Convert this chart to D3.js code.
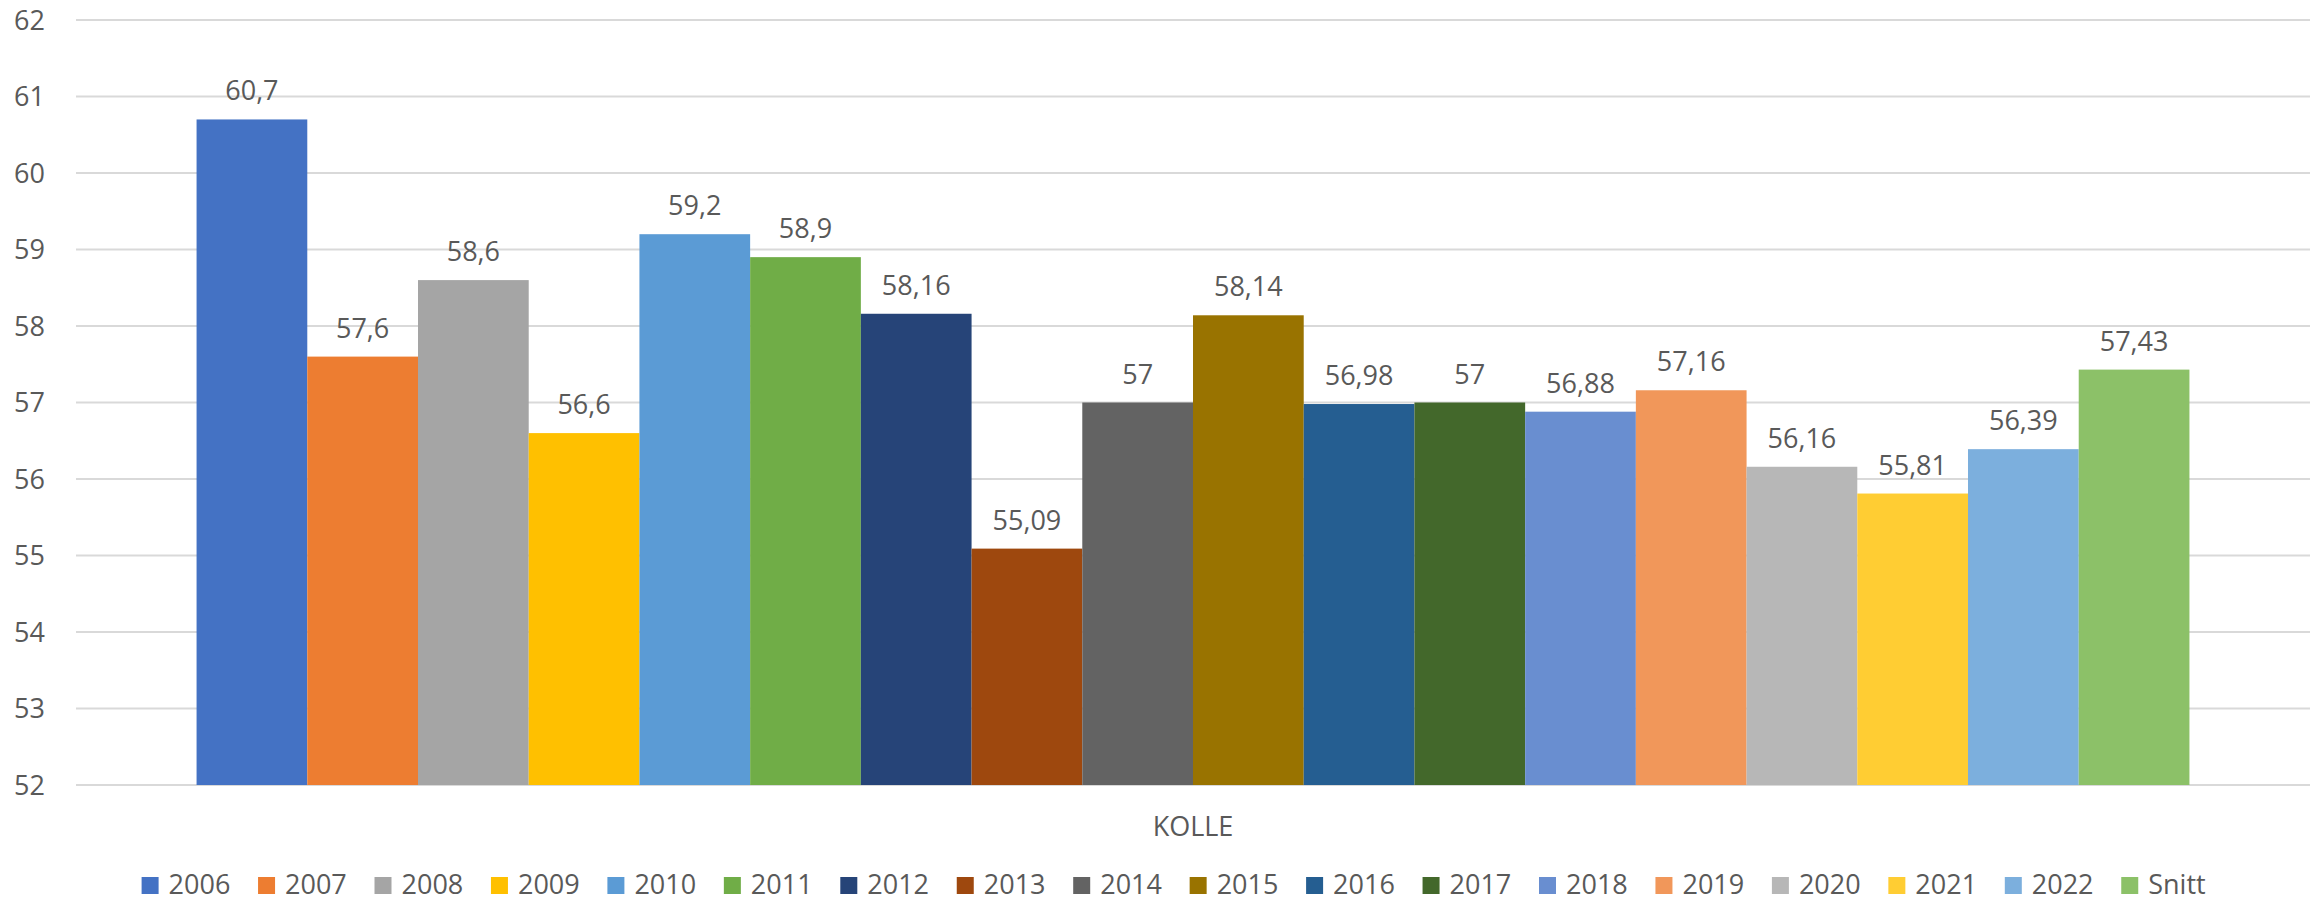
<!DOCTYPE html>
<html>
<head>
<meta charset="utf-8">
<script src="https://cdn.jsdelivr.net/npm/d3@7"></script>
<style>
  html, body { margin: 0; padding: 0; background: #fff; }
  svg { display: block; }
  text { font-family: "Open Sans", sans-serif; fill: #595959; }
</style>
</head>
<body>
<svg id="chart" width="2323" height="902"></svg>
<script>
const category = ["KOLLE"];
const seriesNames = ["2006","2007","2008","2009","2010","2011","2012","2013","2014","2015","2016","2017","2018","2019","2020","2021","2022","Snitt"];
const seriesValues = [60.7, 57.6, 58.6, 56.6, 59.2, 58.9, 58.16, 55.09, 57, 58.14, 56.98, 57, 56.88, 57.16, 56.16, 55.81, 56.39, 57.43];
const seriesColors = ["#4472C4","#ED7D31","#A5A5A5","#FFC000","#5B9BD5","#70AD47","#264478","#9E480E","#636363","#997300","#255E91","#43682B","#698ED0","#F1975A","#B7B7B7","#FFCD33","#7CAFDD","#8CC168"];
const yTicks = [52, 53, 54, 55, 56, 57, 58, 59, 60, 61, 62];

(function () {
const svg = d3.select("#chart");
const pLeft = 76, pRight = 2310, pTop = 20, pBottom = 785;

const y = d3.scaleLinear().domain([52, 62]).range([pBottom, pTop]);
const x0 = d3.scaleBand().domain(category).range([pLeft, pRight]).paddingInner(0).paddingOuter(0.0605);
const x1 = d3.scaleBand().domain(seriesNames).range([0, x0.bandwidth()]).padding(0);

// gridlines
svg.append("g").selectAll("line").data(yTicks).join("line")
  .attr("x1", pLeft).attr("x2", pRight)
  .attr("y1", d => y(d)).attr("y2", d => y(d))
  .attr("stroke", "#D9D9D9").attr("stroke-width", 2);

// y labels
svg.append("g").selectAll("text").data(yTicks).join("text")
  .attr("x", 45).attr("y", d => y(d)).attr("dy", "0.36em")
  .attr("text-anchor", "end").attr("font-size", 27)
  .text(d => d);

const fmt = v => String(v).replace(".", ",");

const g = svg.append("g").attr("transform", `translate(${x0("KOLLE")},0)`);
g.selectAll("rect").data(seriesValues).join("rect")
  .attr("x", (d, i) => x1(seriesNames[i]))
  .attr("width", x1.bandwidth())
  .attr("y", d => y(d))
  .attr("height", d => y(52) - y(d))
  .attr("fill", (d, i) => seriesColors[i]);

g.selectAll("text.lbl").data(seriesValues).join("text")
  .attr("class", "lbl")
  .attr("x", (d, i) => x1(seriesNames[i]) + x1.bandwidth() / 2)
  .attr("y", d => y(d) - 19)
  .attr("text-anchor", "middle").attr("font-size", 27)
  .text(d => fmt(d));

// category label
svg.append("text")
  .attr("x", x0("KOLLE") + x0.bandwidth() / 2).attr("y", 836)
  .attr("text-anchor", "middle").attr("font-size", 27)
  .text("KOLLE");

// legend
const lg = svg.append("g");
const items = lg.selectAll("g").data(seriesNames).join("g")
  .attr("transform", (d, i) => `translate(${141.6 + i * 116.45},0)`);
items.append("rect").attr("x", 0).attr("y", 877).attr("width", 17).attr("height", 17)
  .attr("fill", (d, i) => seriesColors[i]);
items.append("text").attr("x", 27).attr("y", 894).attr("font-size", 27).text(d => d);
})();
</script>
</body>
</html>
